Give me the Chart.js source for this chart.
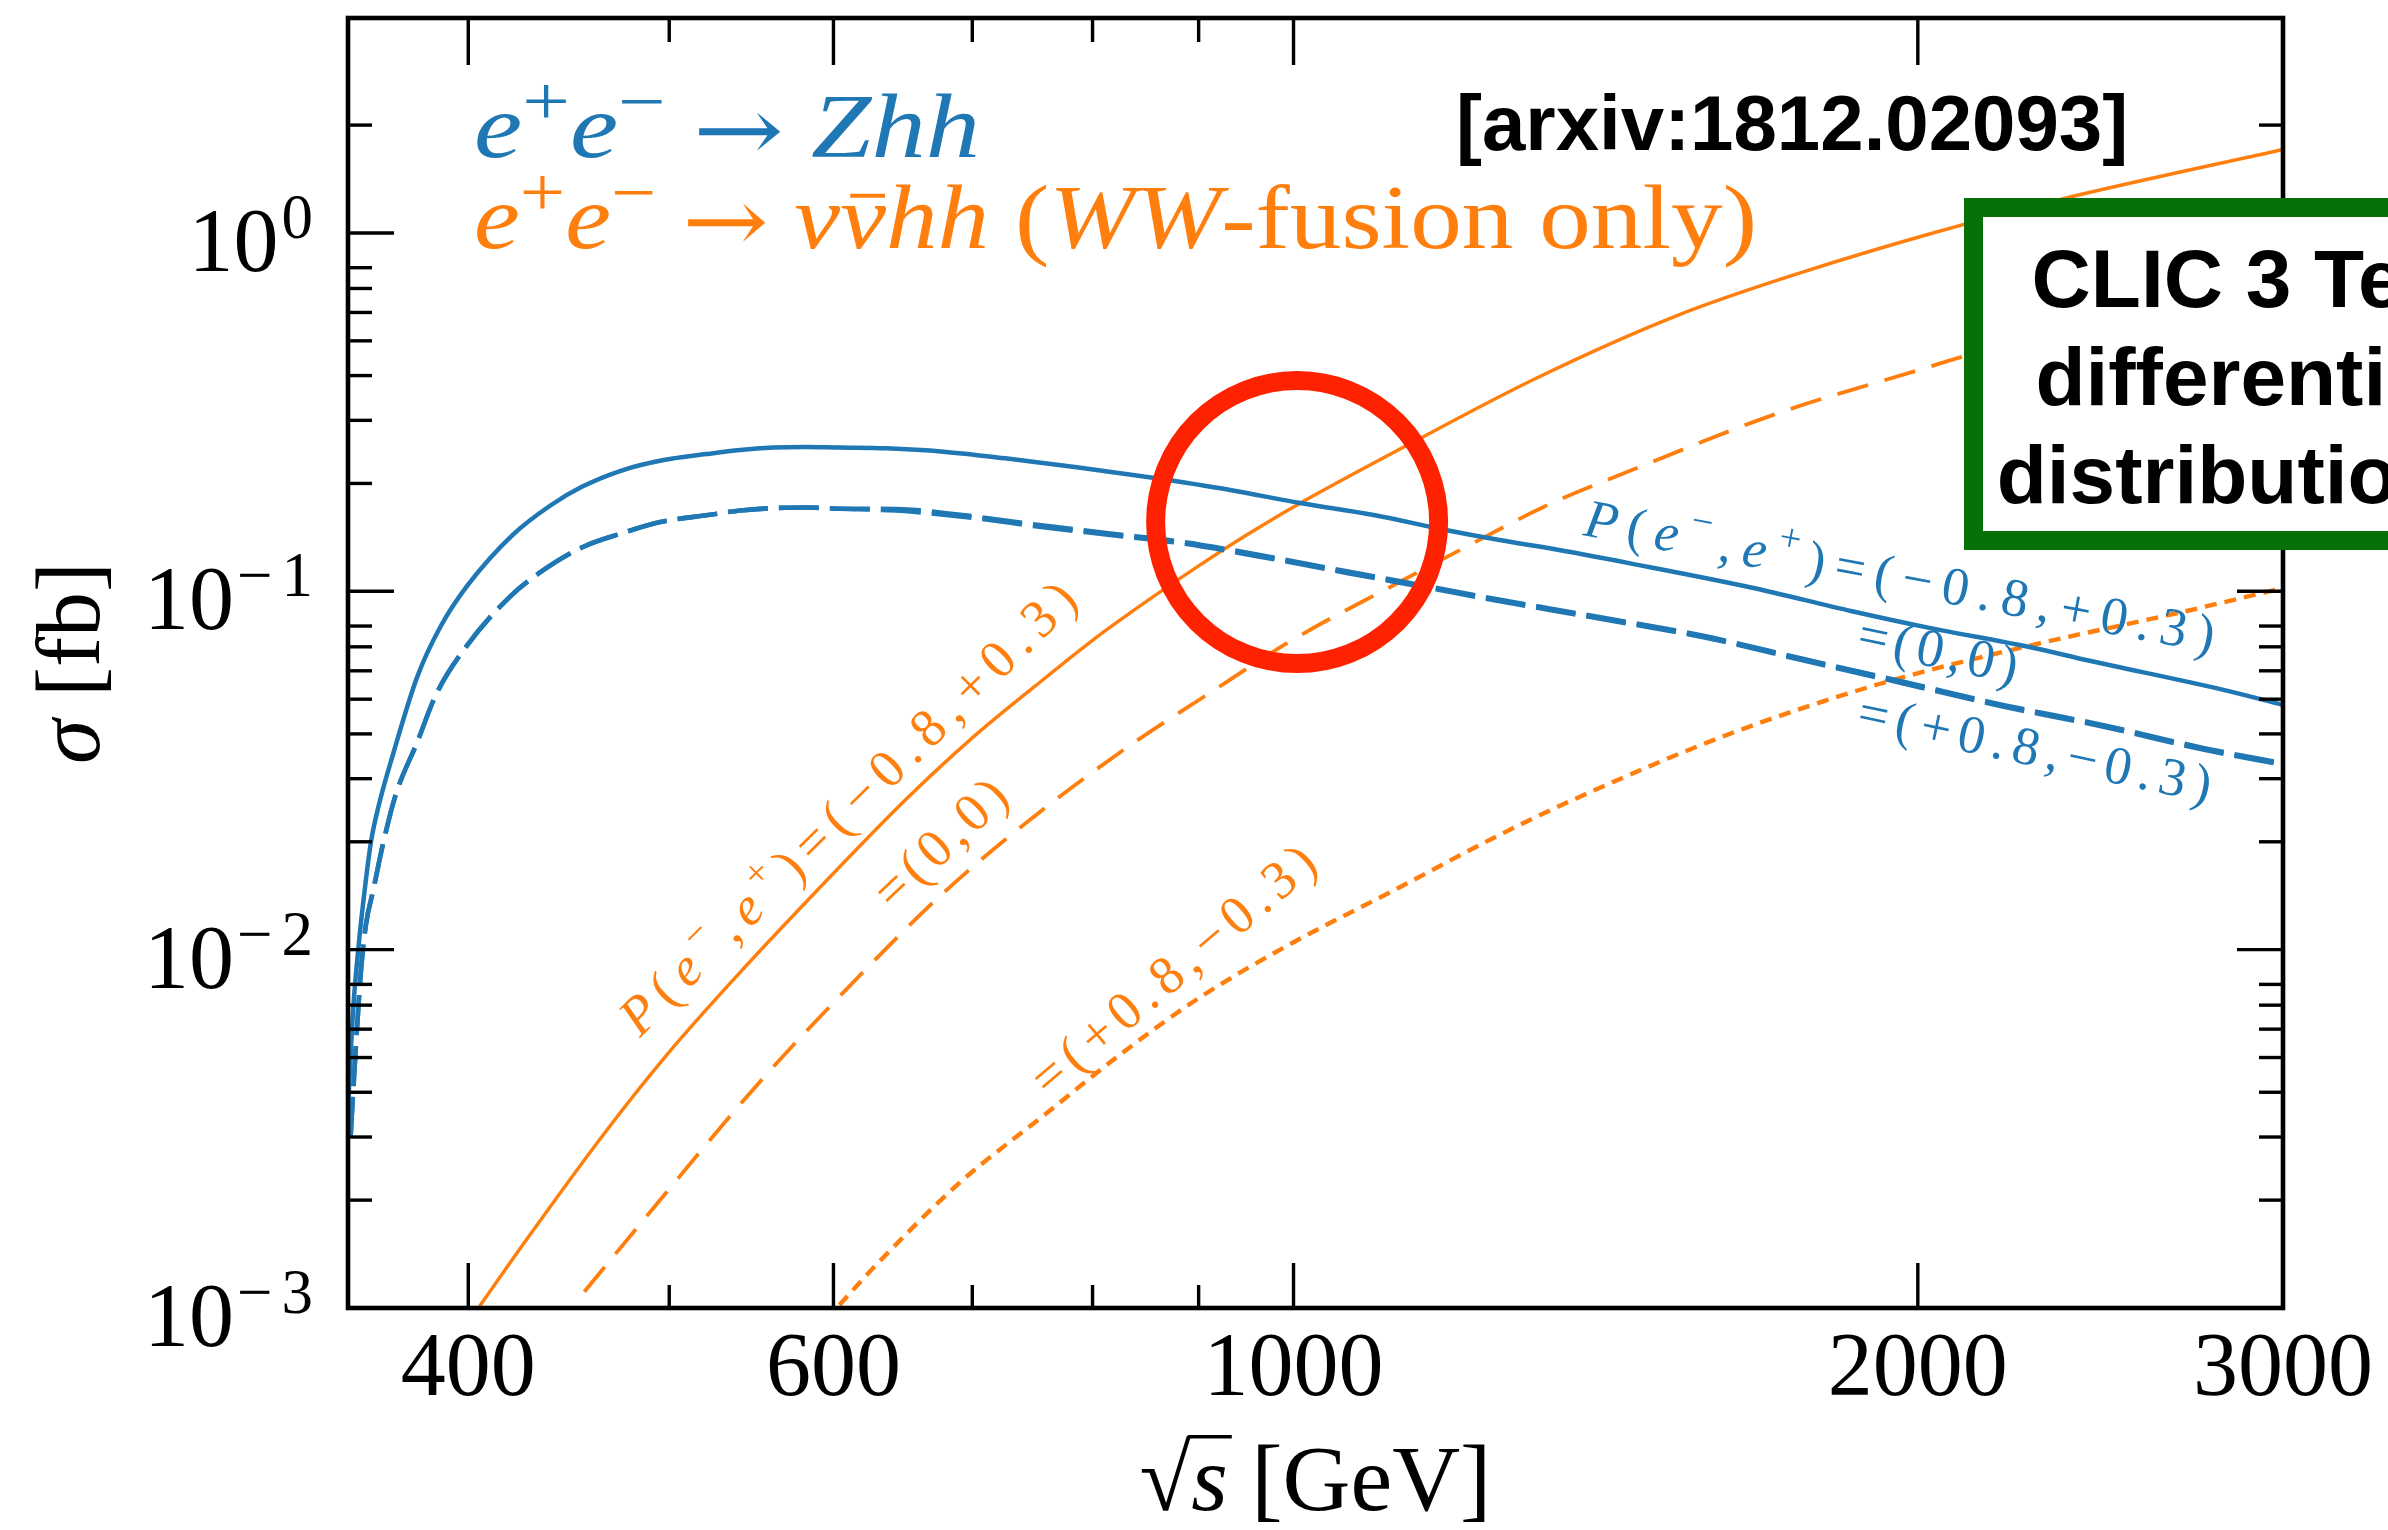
<!DOCTYPE html>
<html lang="en">
<head>
<meta charset="utf-8">
<title>Double Higgs production at e+e- colliders</title>
<script src="https://cdn.jsdelivr.net/npm/chart.js"></script>
<style>
  html, body { margin: 0; padding: 0; background: #ffffff; }
  canvas { display: block; }
</style>
</head>
<body>
<canvas id="xsec" width="2388" height="1530"></canvas>
<script>
// ---------------------------------------------------------------
// Cross sections sigma [fb] versus centre-of-mass energy sqrt(s) [GeV]
// ---------------------------------------------------------------

// e+e- -> Zhh, P(e-,e+) = (-0.8,+0.3)
const zhhPolEnergy = [350, 352, 354, 356, 359, 362, 368, 378, 388, 400,
                      420, 438, 454, 475, 497, 521, 541, 561, 582, 604,
                      636, 678, 726, 786, 852, 932, 1009, 1093, 1184, 1257,
                      1329, 1455, 1662, 1859, 2023, 2261, 2420, 2811, 3000];
const zhhPolSigma = [0.0036, 0.0068, 0.0100, 0.0136, 0.0199, 0.0250, 0.0352, 0.0578, 0.0800, 0.1045,
                     0.1433, 0.1733, 0.1960, 0.2180, 0.2325, 0.2415, 0.2480, 0.2518, 0.2528, 0.2518,
                     0.2506, 0.2453, 0.2350, 0.2218, 0.2080, 0.1918, 0.1760, 0.1633, 0.1483, 0.1390,
                     0.1318, 0.1195, 0.1025, 0.0880, 0.0792, 0.0700, 0.0640, 0.0530, 0.0482];

// e+e- -> Zhh, unpolarised (0,0) and (+0.8,-0.3) (almost on top of each other)
const zhhUnpolEnergy = [351, 352, 355, 357, 360, 364, 369, 378, 386, 399,
                        419, 433, 454, 475, 495, 521, 541, 561, 582, 604,
                        643, 696, 754, 816, 884, 983, 1064, 1153, 1248, 1329,
                        1406, 1572, 1758, 1966, 2198, 2458, 2749, 3000];
const zhhUnpolSigma = [0.0030, 0.0040, 0.0086, 0.0117, 0.0147, 0.0199, 0.0270, 0.0380, 0.0516, 0.0700,
                       0.0967, 0.1127, 0.1327, 0.1455, 0.1560, 0.1630, 0.1680, 0.1707, 0.1714, 0.1700,
                       0.1680, 0.1610, 0.1515, 0.1436, 0.1360, 0.1223, 0.1122, 0.1030, 0.0946, 0.0887,
                       0.0838, 0.0747, 0.0643, 0.0554, 0.0477, 0.0419, 0.0361, 0.0328];
const zhhFlipSigma = [0.0030, 0.0040, 0.0086, 0.0117, 0.0147, 0.0199, 0.0270, 0.0380, 0.0516, 0.0700,
                      0.0967, 0.1127, 0.1327, 0.1455, 0.1560, 0.1630, 0.1680, 0.1707, 0.1714, 0.1700,
                      0.1697, 0.1626, 0.1530, 0.1450, 0.1374, 0.1235, 0.1133, 0.1040, 0.0955, 0.0896,
                      0.0846, 0.0754, 0.0649, 0.0560, 0.0482, 0.0423, 0.0365, 0.0331];

// e+e- -> nu nubar hh (WW fusion), P(e-,e+) = (-0.8,+0.3)
const wwPolEnergy = [405, 427, 465, 499, 540, 587, 650, 700, 750, 800,
                     850, 900, 950, 1000, 1135, 1310, 1533, 1763, 2028, 2335, 3000];
const wwPolSigma = [0.00101, 0.00156, 0.00306, 0.00511, 0.00855, 0.0143, 0.0262, 0.0390, 0.0542, 0.0730,
                    0.0940, 0.1178, 0.1440, 0.1720, 0.2560, 0.394, 0.590, 0.780, 0.995, 1.235, 1.71];

// WW fusion, unpolarised (0,0)
const wwUnpolEnergy = [455, 492, 551, 608, 677, 753, 837, 903, 999, 1122,
                       1199, 1329, 1449, 1715, 2028, 2086, 2500, 3000];
const wwUnpolSigma = [0.00111, 0.00192, 0.00418, 0.0077, 0.0143, 0.0240, 0.0377, 0.0503, 0.0732, 0.1053,
                      0.1290, 0.1752, 0.2155, 0.3150, 0.4240, 0.446, 0.576, 0.730];

// WW fusion, P(e-,e+) = (+0.8,-0.3)
const wwFlipEnergy = [604, 630, 691, 758, 825, 898, 992, 1118, 1257, 1372,
                      1623, 1920, 2271, 2688, 3000];
const wwFlipSigma = [0.00102, 0.00133, 0.00225, 0.00345, 0.0051, 0.00726, 0.01022, 0.01465, 0.0209, 0.0266,
                     0.0400, 0.0553, 0.0708, 0.0878, 0.1021];

// Axis ticks
const xMajorTicks = [400, 600, 1000, 2000, 3000];
const xTickLabels = ['400', '600', '1000', '2000', '3000'];
const xMinorTicks = [500, 700, 800, 900];
const yDecadeExponents = [-3, -2, -1, 0];
const yMinorMantissas = [2, 3, 4, 5, 6, 7, 8];
const yTopMinor = [2];

// ---------------------------------------------------------------
const BLUE = '#1f77b4';
const ORANGE = '#ff7f0e';
const SERIF = '"Liberation Serif", "DejaVu Serif", serif';
const ARROW_FONT = '"DejaVu Serif", serif';
const SANS = '"Liberation Sans", Arial, sans-serif';

const toPoints = (xs, ys) => xs.map((v, i) => ({ x: v, y: ys[i] }));

const lineStyle = {
  pointRadius: 0,
  pointHoverRadius: 0,
  fill: false,
  cubicInterpolationMode: 'monotone',
  borderCapStyle: 'butt',
  borderJoinStyle: 'round'
};

const datasets = [
  { ...lineStyle, label: 'Zhh (-0.8,+0.3)', data: toPoints(zhhPolEnergy, zhhPolSigma),
    borderColor: BLUE, borderWidth: 4.5 },
  { ...lineStyle, label: 'Zhh (0,0)', data: toPoints(zhhUnpolEnergy, zhhUnpolSigma),
    borderColor: BLUE, borderWidth: 4.6, borderDash: [40, 11] },
  { ...lineStyle, label: 'Zhh (+0.8,-0.3)', data: toPoints(zhhUnpolEnergy, zhhFlipSigma),
    borderColor: BLUE, borderWidth: 4.6, borderDash: [40, 11] },
  { ...lineStyle, label: 'WW fusion (-0.8,+0.3)', data: toPoints(wwPolEnergy, wwPolSigma),
    borderColor: ORANGE, borderWidth: 3.4 },
  { ...lineStyle, label: 'WW fusion (0,0)', data: toPoints(wwUnpolEnergy, wwUnpolSigma),
    borderColor: ORANGE, borderWidth: 3.8, borderDash: [32, 17] },
  { ...lineStyle, label: 'WW fusion (+0.8,-0.3)', data: toPoints(wwFlipEnergy, wwFlipSigma),
    borderColor: ORANGE, borderWidth: 4.4, borderDash: [12, 8] }
];

// Rotated polarisation labels, anchored in data coordinates (start of baseline)
const curveLabels = [
  { color: ORANGE, at: [484, 0.00567], angle: -44.7, length: 619,
    runs: [['P', 'i'], ['(', 'r'], ['e', 'i'], ['\u2212', 's'], [',', 'r'], ['e', 'i'], ['+', 's'], [')', 'r'], ['=(\u22120.8,+0.3)', 'r']] },
  { color: ORANGE, at: [641, 0.01273], angle: -43.5, length: 163,
    runs: [['=(0,0)', 'r']] },
  { color: ORANGE, at: [762, 0.00384], angle: -40.4, length: 356,
    runs: [['=(+0.8,\u22120.3)', 'r']] },
  { color: BLUE, at: [1378, 0.1436], angle: 10.6, length: 640,
    runs: [['P', 'i'], ['(', 'r'], ['e', 'i'], ['\u2212', 's'], [',', 'r'], ['e', 'i'], ['+', 's'], [')', 'r'], ['=(\u22120.8,+0.3)', 'r']] },
  { color: BLUE, at: [1866, 0.0682], angle: 11.7, length: 162,
    runs: [['=(0,0)', 'r']] },
  { color: BLUE, at: [1866, 0.0414], angle: 11.9, length: 360,
    runs: [['=(+0.8,\u22120.3)', 'r']] }
];

// Highlight ring around the crossing region
const ring = { at: [1004, 0.156], radius: 141.5, width: 19, color: '#ff2200' };

// ---------------------------------------------------------------
function measureRuns(ctx, runs, size, supScale, supRaise) {
  return runs.map(r => {
    const sup = r.sup === true;
    const sz = sup ? size * supScale : size;
    const family = r.family || SERIF;
    const font = (r.it ? 'italic ' : '') + sz + 'px ' + family;
    ctx.font = font;
    return { t: r.t, font, bar: r.bar, w: ctx.measureText(r.t).width, dy: (sup ? -supRaise : 0) + (r.dy || 0) };
  });
}

// A line of mixed roman / italic / superscript text, optionally stretched to a width
function drawRunLine(ctx, runs, x, baseline, size, opts) {
  const parts = measureRuns(ctx, runs, size, opts.supScale || 0.7, opts.supRaise || size * 0.36);
  const natural = parts.reduce((s, p) => s + p.w, 0);
  const sx = opts.width ? opts.width / natural : 1;
  ctx.save();
  ctx.translate(x, baseline);
  if (opts.rotate) ctx.rotate(opts.rotate);
  if (opts.center) ctx.translate(-natural * sx / 2, 0);
  ctx.scale(sx, 1);
  ctx.fillStyle = opts.color;
  ctx.strokeStyle = opts.color;
  ctx.textAlign = 'left';
  ctx.textBaseline = 'alphabetic';
  let cx = 0;
  for (const p of parts) {
    ctx.font = p.font;
    ctx.fillText(p.t, cx, p.dy);
    if (p.bar) {
      ctx.lineWidth = size * 0.045;
      ctx.beginPath();
      ctx.moveTo(cx + p.w * 0.22, -size * 0.58);
      ctx.lineTo(cx + p.w * 0.98, -size * 0.58);
      ctx.stroke();
    }
    cx += p.w;
  }
  ctx.restore();
  return parts;
}

// Label glyphs spread along a rotated baseline to a given length
function drawAlong(ctx, label, px, py, size) {
  const items = [];
  for (const [text, kind] of label.runs) {
    const sup = kind === 's';
    const font = (kind === 'i' ? 'italic ' : '') + (sup ? size * 0.72 : size) + 'px ' + SERIF;
    ctx.font = font;
    for (const ch of text) {
      items.push({ ch, font, w: ctx.measureText(ch).width, dy: sup ? -size * 0.42 : 0 });
    }
  }
  const natural = items.reduce((s, it) => s + it.w, 0);
  const gap = items.length > 1 ? (label.length - natural) / (items.length - 1) : 0;
  ctx.save();
  ctx.translate(px, py);
  ctx.rotate(label.angle * Math.PI / 180);
  ctx.fillStyle = label.color;
  ctx.textAlign = 'left';
  ctx.textBaseline = 'alphabetic';
  let x = 0;
  for (const it of items) {
    ctx.font = it.font;
    ctx.fillText(it.ch, x, it.dy);
    x += it.w + gap;
  }
  ctx.restore();
}

const figurePlugin = {
  id: 'figureDecor',
  beforeDraw(chart) {
    const c = chart.ctx;
    c.save();
    c.fillStyle = '#ffffff';
    c.fillRect(0, 0, chart.width, chart.height);
    c.restore();
  },
  afterDatasetsDraw(chart) {
    const ctx = chart.ctx;
    const a = chart.chartArea;
    const xs = chart.scales.x;
    const ys = chart.scales.y;
    ctx.save();

    // ---- frame ----
    ctx.strokeStyle = '#000';
    ctx.lineWidth = 4.6;
    ctx.strokeRect(a.left, a.top, a.right - a.left, a.bottom - a.top);

    // ---- inward ticks on all four sides ----
    const seg = (x1, y1, x2, y2) => { ctx.beginPath(); ctx.moveTo(x1, y1); ctx.lineTo(x2, y2); ctx.stroke(); };
    ctx.lineWidth = 3.4;
    xMajorTicks.forEach(v => {
      const px = xs.getPixelForValue(v);
      seg(px, a.bottom, px, a.bottom - 45);
      seg(px, a.top, px, a.top + 47);
    });
    xMinorTicks.forEach(v => {
      const px = xs.getPixelForValue(v);
      seg(px, a.bottom, px, a.bottom - 23);
      seg(px, a.top, px, a.top + 24);
    });
    yDecadeExponents.forEach(e => {
      const py = ys.getPixelForValue(Math.pow(10, e));
      seg(a.left, py, a.left + 46, py);
      seg(a.right, py, a.right - 46, py);
    });
    const minorY = [];
    yDecadeExponents.slice(0, -1).forEach(e => yMinorMantissas.forEach(m => minorY.push(m * Math.pow(10, e))));
    yTopMinor.forEach(v => minorY.push(v));
    minorY.forEach(v => {
      const py = ys.getPixelForValue(v);
      seg(a.left, py, a.left + 24, py);
      seg(a.right, py, a.right - 24, py);
    });

    // ---- x tick labels ----
    ctx.fillStyle = '#000';
    ctx.textAlign = 'center';
    ctx.textBaseline = 'alphabetic';
    ctx.font = '90px ' + SERIF;
    xMajorTicks.forEach((v, i) => {
      ctx.fillText(xTickLabels[i], xs.getPixelForValue(v), a.bottom + 87);
    });

    // ---- y tick labels 10^n ----
    yDecadeExponents.forEach(e => {
      const py = ys.getPixelForValue(Math.pow(10, e));
      const base = py + 38;
      const expParts = e < 0 ? ['\u2212', String(-e)] : [String(e)];
      ctx.font = '90px ' + SERIF;
      const wMain = ctx.measureText('10').width;
      ctx.font = '63px ' + SERIF;
      const wExp = expParts.map(s => ctx.measureText(s).width);
      const inner = expParts.length > 1 ? 9 : 0;
      const total = wMain + 3 + wExp.reduce((s, w) => s + w, 0) + inner;
      let cx = a.left - 35 - total;
      ctx.textAlign = 'left';
      ctx.font = '90px ' + SERIF;
      ctx.fillText('10', cx, base);
      cx += wMain + 3;
      ctx.font = '63px ' + SERIF;
      expParts.forEach((s, i) => {
        ctx.fillText(s, cx, base - 33);
        cx += wExp[i] + (i === 0 && expParts.length > 1 ? inner : 0);
      });
    });

    // ---- axis titles ----
    const midX = (a.left + a.right) / 2;
    const xt = drawRunLine(ctx, [
      { t: '\u221A' }, { t: 's', it: true }, { t: ' [GeV]' }
    ], midX, a.bottom + 202, 94, { color: '#000', center: true });
    // vinculum over s
    {
      ctx.font = '94px ' + SERIF;
      const wRoot = xt[0].w;
      const wS = xt[1].w;
      const total = xt.reduce((s, p) => s + p.w, 0);
      const x0 = midX - total / 2;
      const top = a.bottom + 202 - ctx.measureText('\u221A').actualBoundingBoxAscent;
      ctx.strokeStyle = '#000';
      ctx.lineWidth = 3.6;
      seg(x0 + wRoot - 3, top + 1.8, x0 + wRoot + wS + 4, top + 1.8);
    }
    drawRunLine(ctx, [
      { t: '\u03C3', it: true }, { t: ' [fb]' }
    ], 99, (a.top + a.bottom) / 2, 90, { color: '#000', center: true, rotate: -Math.PI / 2 });

    // ---- process legend ----
    drawRunLine(ctx, [
      { t: 'e', it: true }, { t: '+', sup: true }, { t: 'e', it: true }, { t: '\u2212', sup: true },
      { t: ' ' }, { t: '\u2192', family: ARROW_FONT, dy: 4 }, { t: ' ' }, { t: 'Zhh', it: true }
    ], 474, 157, 90, { color: BLUE, supScale: 0.78, supRaise: 32, width: 506 });
    drawRunLine(ctx, [
      { t: 'e', it: true }, { t: '+', sup: true }, { t: 'e', it: true }, { t: '\u2212', sup: true },
      { t: ' ' }, { t: '\u2192', family: ARROW_FONT, dy: 4 }, { t: ' ' },
      { t: '\u03BD', it: true }, { t: '\u03BD', it: true, bar: true }, { t: 'hh', it: true },
      { t: ' (' }, { t: 'WW', it: true }, { t: '-fusion only)' }
    ], 474, 248, 90, { color: ORANGE, supScale: 0.78, supRaise: 32, width: 1283 });

    // ---- polarisation labels on the curves ----
    curveLabels.forEach(lbl => {
      drawAlong(ctx, lbl, xs.getPixelForValue(lbl.at[0]), ys.getPixelForValue(lbl.at[1]), 54);
    });

    // ---- reference tag ----
    ctx.fillStyle = '#000';
    ctx.textAlign = 'left';
    ctx.font = 'bold 78px ' + SANS;
    ctx.fillText('[arxiv:1812.02093]', 1456, 150);

    // ---- highlight ring ----
    ctx.strokeStyle = ring.color;
    ctx.lineWidth = ring.width;
    ctx.beginPath();
    ctx.arc(xs.getPixelForValue(ring.at[0]), ys.getPixelForValue(ring.at[1]), ring.radius, 0, Math.PI * 2);
    ctx.stroke();

    // ---- CLIC box ----
    const boxL = 1964, boxT = 198, boxB = 550, bw = 19;
    ctx.fillStyle = '#ffffff';
    ctx.fillRect(boxL, boxT, 700, boxB - boxT);
    ctx.strokeStyle = '#077007';
    ctx.lineWidth = bw;
    ctx.strokeRect(boxL + bw / 2, boxT + bw / 2, 700, boxB - boxT - bw);
    ctx.fillStyle = '#000';
    ctx.textAlign = 'center';
    ctx.font = 'bold 82px ' + SANS;
    ctx.fillText('CLIC 3 TeV', 2245, 307);
    ctx.fillText('differential', 2245, 405);
    ctx.fillText('distributions', 2245, 503);

    ctx.restore();
  }
};

new Chart(document.getElementById('xsec'), {
  type: 'line',
  data: { datasets },
  options: {
    responsive: false,
    animation: false,
    devicePixelRatio: 1,
    layout: { padding: { left: 348, right: 105, top: 18, bottom: 222 } },
    plugins: { legend: { display: false }, tooltip: { enabled: false } },
    events: [],
    scales: {
      x: { type: 'logarithmic', min: 350, max: 3000, display: false },
      y: { type: 'logarithmic', min: 0.001, max: 3.98, display: false }
    }
  },
  plugins: [figurePlugin]
});
</script>
</body>
</html>
